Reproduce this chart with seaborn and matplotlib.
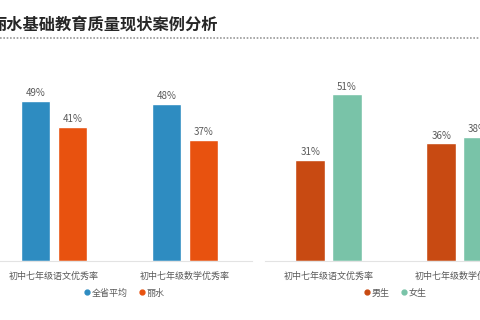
import matplotlib
matplotlib.use("Agg")
import matplotlib.pyplot as plt
from matplotlib.lines import Line2D
import seaborn as sns
import pandas as pd

sns.set_theme(style="white")
plt.rcParams['font.family'] = ['Noto Sans CJK SC', 'DejaVu Sans']

title = "丽水基础教育质量现状案例分析"
categories = ["初中七年级语文优秀率", "初中七年级数学优秀率"]
left_series = ["全省平均", "丽水"]
left_province = [49, 48]
left_lishui = [41, 37]
right_series = ["男生", "女生"]
right_male = [31, 36]
right_female = [51, 38]

left_colors = ["#2E8CC1", "#E8520F"]
right_colors = ["#C84A12", "#79C3A8"]

df_left = pd.DataFrame({
    "cat": categories * 2,
    "series": [left_series[0]] * 2 + [left_series[1]] * 2,
    "val": left_province + left_lishui,
})
df_right = pd.DataFrame({
    "cat": categories * 2,
    "series": [right_series[0]] * 2 + [right_series[1]] * 2,
    "val": right_male + right_female,
})

W, H = 480, 320
fig = plt.figure(figsize=(4.8, 3.2), dpi=100)
fig.patch.set_facecolor("white")

ax_bottom = (H - 261) / H
ax_h = (261 - 65) / H
ax1 = fig.add_axes([0 / W, ax_bottom, 252 / W, ax_h])
ax2 = fig.add_axes([265 / W, ax_bottom, (480 - 265) / W, ax_h])

px_per_unit = 131.0


def draw(ax, df, series, colors, center0_px, left_px, right_px, legend_center_px):
    sns.barplot(data=df, x="cat", y="val", hue="series", hue_order=series,
                palette=colors, width=0.56, gap=0.2, ax=ax, legend=False,
                saturation=1)
    for c in ax.containers:
        ax.bar_label(c, fmt="%d%%", fontsize=7, color="#595959", padding=2)
    ax.set_ylim(0, 60)
    ax.set_xlim(-(center0_px - left_px) / px_per_unit,
                (right_px - center0_px) / px_per_unit)
    ax.set_xlabel("")
    ax.set_ylabel("")
    ax.set_yticks([])
    ax.tick_params(axis="x", labelsize=6.5, labelcolor="#595959", length=0, pad=8)
    for s in ["top", "left", "right"]:
        ax.spines[s].set_visible(False)
    ax.spines["bottom"].set_color("#e3e3e3")
    ax.spines["bottom"].set_linewidth(0.8)
    ax.set_facecolor("none")
    handles = [Line2D([], [], marker="o", linestyle="", markersize=3.5,
                      color=col, label=lab) for col, lab in zip(colors, series)]
    fig.legend(handles=handles, loc="center", ncol=2, frameon=False,
               bbox_to_anchor=(legend_center_px / W, 1 - 293 / H),
               fontsize=6.5, labelcolor="#595959", handletextpad=0.1,
               columnspacing=1.2, handlelength=0.8)


draw(ax1, df_left, left_series, left_colors, 54, 0, 252, 124)
draw(ax2, df_right, right_series, right_colors, 328.5, 265, 480, 395)

fig.text(-10 / W, 1 - 25 / H, title, fontsize=11.7, fontweight="bold",
         color="#262626", va="center", ha="left")
fig.add_artist(Line2D([0, 1], [1 - 37.5 / H, 1 - 37.5 / H], transform=fig.transFigure,
                      color="#9a9a9a", linewidth=1.2, linestyle=(0, (1, 1))))

fig.savefig("out.png", dpi=100, facecolor="white")
